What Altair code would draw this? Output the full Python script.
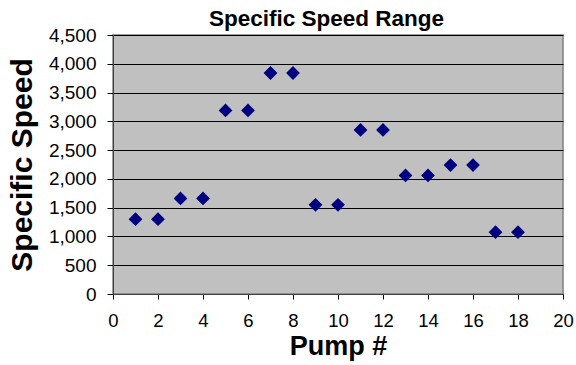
import altair as alt
import pandas as pd

pump = [1, 2, 3, 4, 5, 6, 7, 8, 9, 10, 11, 12, 13, 14, 15, 16, 17, 18]
speed = [1300, 1300, 1660, 1660, 3190, 3190, 3840, 3840, 1550, 1550,
         2850, 2850, 2060, 2060, 2240, 2240, 1075, 1075]

df = pd.DataFrame({"Pump #": pump, "Specific Speed": speed})

FONT = "Liberation Sans"

chart = alt.Chart(df).mark_point(
    shape="diamond", filled=True, size=190, color="#000080", opacity=1
).encode(
    x=alt.X("Pump #:Q",
            scale=alt.Scale(domain=[0, 20], nice=False, zero=True),
            axis=alt.Axis(values=list(range(0, 21, 2)), grid=False,
                          tickSize=5, tickColor="#000000", domainColor="#404040",
                          labelFontSize=18.5, labelFont=FONT, labelColor="#000000",
                          labelPadding=12, labelFlush=False,
                          title="Pump #", titleFontSize=27, titleFont=FONT,
                          titleFontWeight="bold", titleColor="#000000",
                          titleBaseline="alphabetic", titleY=60)),
    y=alt.Y("Specific Speed:Q",
            scale=alt.Scale(domain=[0, 4500], nice=False),
            axis=alt.Axis(values=list(range(0, 4501, 500)), format=",.0f",
                          grid=True, gridColor="#000000", gridWidth=1,
                          tickSize=6, tickColor="#000000", domainColor="#404040",
                          labelFontSize=19, labelFont=FONT, labelColor="#000000",
                          labelPadding=11, labelFlush=False,
                          title="Specific Speed", titleFontSize=30, titleFont=FONT,
                          titleFontWeight="bold", titleColor="#000000",
                          titleBaseline="alphabetic", titleX=-82, titleAngle=-90)),
).properties(
    width=450, height=259,
    title=alt.TitleParams("Specific Speed Range", fontSize=22.5, font=FONT,
                          fontWeight="bold", color="#000000", anchor="middle",
                          dx=-11.5, dy=7, offset=3),
    autosize=alt.AutoSizeParams(type="none"),
    padding={"left": 113, "top": 35, "right": 13, "bottom": 71},
    background="#ffffff",
).configure_view(
    fill="#c0c0c0", stroke="#808080", strokeWidth=1.5
)

chart.save("out.html", embed_options={"renderer": "svg", "actions": False})
